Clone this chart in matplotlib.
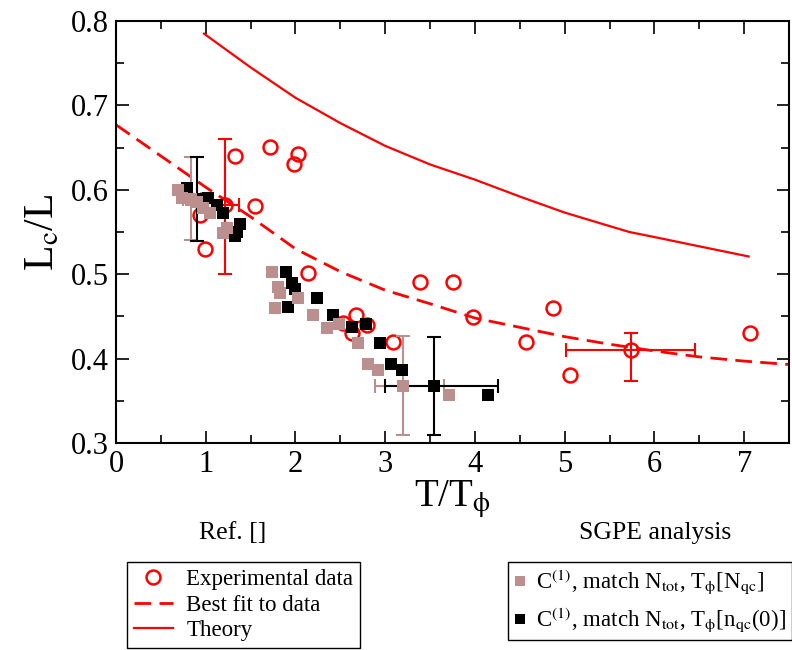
import numpy as np
import matplotlib
matplotlib.use('Agg')
import matplotlib.pyplot as plt
from matplotlib.ticker import MultipleLocator

plt.rcParams['font.family'] = ['Liberation Serif', 'DejaVu Serif']
plt.rcParams['mathtext.fontset'] = 'stix'

# experimental data (open red circles)
exp_x = [0.94, 0.99, 1.33, 1.55, 1.72, 1.98, 2.03, 2.14, 2.53, 2.63, 2.67, 2.80,
         3.09, 3.39, 3.75, 3.98, 4.57, 4.87, 5.06, 7.06]
exp_y = [0.570, 0.530, 0.640, 0.581, 0.651, 0.631, 0.642, 0.501, 0.442, 0.430, 0.452, 0.440,
         0.420, 0.491, 0.491, 0.449, 0.420, 0.460, 0.380, 0.430]
# experimental points with error bars
exp_err_x = [1.22, 5.74]
exp_err_y = [0.582, 0.410]
exp_xerr = [[0.15, 0.72], [0.15, 0.71]]
exp_yerr = [[0.082, 0.036], [0.078, 0.020]]

# best fit to data
fit_x = [0.0, 0.5, 1.0, 1.5, 2.0, 2.5, 3.0, 3.5, 4.0, 4.5, 5.0, 5.5, 6.0, 6.5, 7.0, 7.5]
fit_y = [0.677, 0.640, 0.603, 0.568, 0.530, 0.503, 0.481, 0.465, 0.448, 0.437, 0.426,
         0.417, 0.409, 0.402, 0.397, 0.393]

# theory
th_x = [0.98, 1.5, 2.0, 2.5, 3.0, 3.5, 4.0, 4.5, 5.0, 5.5, 5.72, 6.0, 6.5, 7.05]
th_y = [0.785, 0.745, 0.709, 0.679, 0.652, 0.630, 0.612, 0.592, 0.573, 0.557, 0.550,
        0.544, 0.533, 0.521]

# SGPE, T_phi[N_qc] (grey squares)
grey_x = [0.69, 0.74, 0.83, 0.90, 0.97, 1.05, 1.19, 1.24, 1.74, 1.80, 1.83, 1.77, 2.03,
          2.19, 2.35, 2.48, 2.70, 2.81, 2.92, 3.71]
grey_y = [0.600, 0.590, 0.588, 0.585, 0.579, 0.573, 0.549, 0.555, 0.502, 0.485, 0.478,
          0.460, 0.472, 0.452, 0.436, 0.441, 0.419, 0.394, 0.387, 0.357]
grey_err_x = [0.83, 3.20]
grey_err_y = [0.589, 0.368]
grey_xerr = [[0.08, 0.31], [0.12, 0.45]]
grey_yerr = [[0.049, 0.059], [0.050, 0.059]]

# SGPE, T_phi[n_qc(0)] (black squares)
blk_x = [0.79, 1.02, 1.12, 1.19, 1.38, 1.35, 1.33, 1.89, 1.96, 2.00, 1.92, 2.24, 2.42,
         2.63, 2.79, 2.94, 3.07, 3.19, 4.14]
blk_y = [0.602, 0.590, 0.582, 0.573, 0.559, 0.550, 0.545, 0.502, 0.490, 0.482, 0.461,
         0.472, 0.452, 0.438, 0.441, 0.419, 0.394, 0.387, 0.357]
blk_err_x = [0.90, 3.54]
blk_err_y = [0.589, 0.368]
blk_xerr = [[0.10, 0.54], [0.18, 0.72]]
blk_yerr = [[0.050, 0.059], [0.050, 0.058]]

red = '#ff0000'
grey = '#bc8f8f'

fig = plt.figure(figsize=(7.92, 6.5), dpi=100)
ax = fig.add_axes([0.1465, 0.3185, 0.8497, 0.6492])

ax.errorbar(exp_err_x, exp_err_y, xerr=exp_xerr, yerr=exp_yerr, fmt='none',
            ecolor=red, elinewidth=1.5, capsize=5, capthick=1.5)
exp_h, = ax.plot(exp_x + exp_err_x, exp_y + exp_err_y, 'o', mfc='none', mec=red,
                 mew=1.8, ms=10, ls='none')
fit_h, = ax.plot(fit_x, fit_y, color=red, lw=2, dashes=(6, 3))
th_h, = ax.plot(th_x, th_y, color=red, lw=1.6)

ax.errorbar(grey_err_x, grey_err_y, xerr=grey_xerr, yerr=grey_yerr, fmt='none',
            ecolor=grey, elinewidth=1.5, capsize=5, capthick=1.5)
ax.errorbar(blk_err_x, blk_err_y, xerr=blk_xerr, yerr=blk_yerr, fmt='none',
            ecolor='black', elinewidth=1.5, capsize=5, capthick=1.5)
blk_h, = ax.plot(blk_x + blk_err_x, blk_y + blk_err_y, 's', color='black', ms=9,
                 mew=0, ls='none')
grey_h, = ax.plot(grey_x + grey_err_x, grey_y + grey_err_y, 's', color=grey, ms=9,
                  mew=0, ls='none')

ax.set_xlim(0, 7.5)
ax.set_ylim(0.3, 0.8)
ax.xaxis.set_major_locator(MultipleLocator(1))
ax.xaxis.set_minor_locator(MultipleLocator(0.5))
ax.yaxis.set_major_locator(MultipleLocator(0.1))
ax.yaxis.set_minor_locator(MultipleLocator(0.05))
ax.set_xticks(range(8))
ax.set_xticklabels([str(i) for i in range(8)])
ax.tick_params(which='both', direction='in', top=True, right=True, labelsize=22, width=1.2)
ax.tick_params(which='major', length=9, pad=5)
ax.tick_params(which='minor', length=6)
for s in ax.spines.values():
    s.set_linewidth(1.5)

ax.set_xlabel(r'T/T$_\mathrm{ϕ}$', fontsize=28, labelpad=0)
ax.set_ylabel(r'L$_\mathrm{c}$/L', fontsize=30, labelpad=6)

fig.text(0.294, 0.18, 'Ref. []', fontsize=18.5, ha='center', va='center')
fig.text(0.827, 0.18, 'SGPE analysis', fontsize=18.5, ha='center', va='center')

leg1 = fig.legend([exp_h, fit_h, th_h], ['Experimental data', 'Best fit to data', 'Theory'],
                  loc='upper left', bbox_to_anchor=(0.160, 0.1354), fontsize=16.5,
                  fancybox=False, edgecolor='black', framealpha=1, borderpad=0.3,
                  labelspacing=0.2, handlelength=1.7, handletextpad=0.6, borderaxespad=0)
leg1.get_frame().set_linewidth(1.0)
leg2 = fig.legend([grey_h, blk_h],
                  [r'C$^{(1)}$, match N$_\mathrm{tot}$, T$_\mathrm{ϕ}$[N$_\mathrm{qc}$]',
                   r'C$^{(1)}$, match N$_\mathrm{tot}$, T$_\mathrm{ϕ}$[n$_\mathrm{qc}$(0)]'],
                  loc='upper left', bbox_to_anchor=(0.641, 0.1354), fontsize=16.5,
                  fancybox=False, edgecolor='black', framealpha=1, borderpad=0.25,
                  labelspacing=0.35, handlelength=0.6, handletextpad=0.4, borderaxespad=0,
                  markerscale=0.8)
leg2.get_frame().set_linewidth(1.0)

fig.savefig('out.png', dpi=100)
